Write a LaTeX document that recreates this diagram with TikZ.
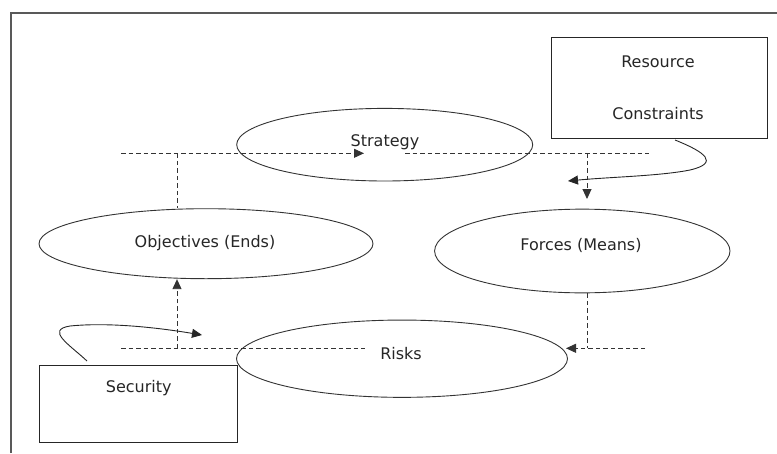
\documentclass[tikz,border=0pt]{standalone}
\usepackage{fontspec}
\setmainfont{DejaVu Sans}
\usetikzlibrary{arrows.meta,shapes.geometric}

\begin{document}
\begin{tikzpicture}[x=1pt,y=-1pt,
  txt/.style={font=\fontsize{16}{18}\selectfont, text=black!85, inner sep=0pt, anchor=base},
  oval/.style={ellipse, draw=black!80, line width=0.9pt, inner sep=0pt},
  block/.style={rectangle, draw=black!85, line width=0.9pt, inner sep=0pt},
  dash line/.style={draw=black!80, line width=0.9pt, dash pattern=on 4.5pt off 3pt},
  tip/.style={-{Triangle[length=10pt,width=9pt]}},
  link/.style={draw=black!85, line width=0.9pt}
]
\useasboundingbox (0,0) rectangle (777,453);

% outer frame (open at the right and bottom)
\draw[draw=black!65, line width=1.6pt] (11,453) -- (11,12.7) -- (777,12.7);

% boxes
\node[block, minimum width=216pt, minimum height=101pt] (res) at (659,88.4) {};
\node[block, minimum width=198.4pt, minimum height=77.3pt] (sec) at (138.5,403.7) {};

% ellipses
\node[oval, minimum width=296pt, minimum height=72.6pt] (strat) at (384.7,144.7) {};
\node[oval, minimum width=334pt, minimum height=70pt] (obj) at (206,243.7) {};
\node[oval, minimum width=295.4pt, minimum height=83.7pt] (forces) at (582.3,251) {};
\node[oval, minimum width=331pt, minimum height=77.3pt] (risks) at (402,358.7) {};

% labels
\node[txt] (resA) at (658,67.7) {Resource};
\node[txt] (resB) at (658,119) {Constraints};
\node[txt] (secT) at (138.8,392.5) {Security};
\node[txt] (stratT) at (385,146.7) {Strategy};
\node[txt] (objT) at (205,247.5) {Objectives (Ends)};
\node[txt] (forcesT) at (581,250.5) {Forces (Means)};
\node[txt] (risksT) at (401,359.3) {Risks};

% junction points of the dashed lines
\coordinate (topL) at (121,153.3);
\coordinate (topA) at (364,153.3);
\coordinate (topB) at (405,153.3);
\coordinate (topR) at (649,153.3);
\coordinate (jObjTop) at (177,153.3);
\coordinate (jForTop) at (587,153.3);
\coordinate (forIn) at (587,199);
\coordinate (botL) at (121,348.3);
\coordinate (botR) at (365,348.3);
\coordinate (jObjBot) at (177,348.3);
\coordinate (jForBot) at (587,348.3);
\coordinate (riskR) at (645,348.3);
\coordinate (riskIn) at (566,348.3);
\coordinate (resOut) at (675,140);
\coordinate (resIn) at (568,181);
\coordinate (secOut) at (87,361);
\coordinate (secIn) at (202,335);

% upper dashed line
\draw[dash line, tip] (topL) -- (topA);
\draw[dash line] (topB) -- (topR);
\draw[dash line] (jObjTop) -- (jObjTop |- obj.north);
\draw[dash line, tip] (jForTop) -- (forIn);

% lower dashed line
\draw[dash line] (botL) -- (botR);
\draw[dash line, tip] (jObjBot) -- (jObjBot |- obj.south);
\draw[dash line] (jForBot |- forces.south) -- (jForBot);
\draw[dash line, tip] (riskR) -- (riskIn);

% curved arrows
\draw[link, tip] (resOut) .. controls (705,152) and (720,163) .. (690,170)
  .. controls (660,176) and (610,177) .. (resIn);
\draw[link, tip] (secOut) .. controls (70,345) and (45,330) .. (70,326)
  .. controls (110,322) and (160,328) .. (secIn);
\end{tikzpicture}
\end{document}
